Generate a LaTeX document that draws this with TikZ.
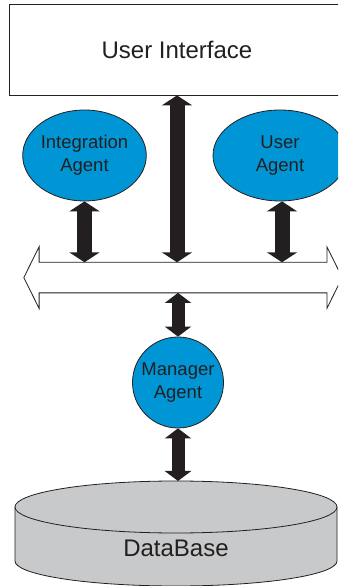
\documentclass[tikz,border=0pt]{standalone}
\usepackage{fontspec}
\setmainfont{Liberation Sans}
\usetikzlibrary{arrows.meta,shapes.geometric}
\definecolor{agentblue}{RGB}{0,150,214}
\definecolor{ink}{RGB}{35,31,32}
\definecolor{dbgray}{RGB}{200,201,202}
\tikzset{
  outline/.style={draw=ink, line width=0.8pt},
  agent/.style={outline, fill=agentblue, ellipse, inner sep=0pt, align=center,
    text=ink, font=\fontsize{18.5}{23}\selectfont},
  fatarrow/.style={draw=ink, line width=15pt,
    {Triangle[width=30pt,length=10pt]}-{Triangle[width=30pt,length=10pt]}},
  slimarrow/.style={draw=ink, line width=13pt,
    {Triangle[width=26pt,length=10pt]}-{Triangle[width=26pt,length=10pt]}},
}
\begin{document}
\begin{tikzpicture}[x=1pt,y=1pt]
\useasboundingbox (0,0) rectangle (338,586);
\clip (0,0) rectangle (338,586);

% user interface panel
\node[outline, fill=white, rectangle, minimum width=336pt, minimum height=91pt,
  inner sep=0pt, text=ink, font=\fontsize{24}{28}\selectfont] (ui) at (177,536.5) {User Interface};

% agents
\node[agent, minimum width=123pt, minimum height=91pt] (ia) at (84.5,430.5) {Integration\\Agent};
\node[agent, minimum width=134pt, minimum height=91pt] (ua) at (280,430.5) {User\\Agent};

% communication bus (hollow double arrow)
\node[inner sep=0pt, minimum width=287.4pt, minimum height=30.2pt] (bus) at (183,308.4) {};
\draw[outline, fill=white]
  (bus.north west) -- (bus.north east) -- ([yshift=15.5pt]bus.north east)
  -- ([xshift=15.3pt]bus.east) -- ([yshift=-15.5pt]bus.south east)
  -- (bus.south east) -- (bus.south west) -- ([yshift=-15.5pt]bus.south west)
  -- ([xshift=-15.3pt]bus.west) -- ([yshift=15.5pt]bus.north west) -- cycle;

% manager agent
\node[agent, circle, minimum size=91pt] (mgr) at (178,203.5) {Manager\\Agent};

% database cylinder
\coordinate (dbtop) at (176,105);
\fill[dbgray] (15,79) -- (15,25) arc[start angle=180, end angle=360, x radius=161pt, y radius=25pt]
  -- (337,79) arc[start angle=0, end angle=180, x radius=161pt, y radius=26pt] -- cycle;
\draw[outline] (15,79) -- (15,25) arc[start angle=180, end angle=360, x radius=161pt, y radius=25pt] -- (337,79);
\draw[outline] (176,79) ellipse[x radius=161pt, y radius=26pt];
\node[text=ink, font=\fontsize{24}{28}\selectfont] (db) at (176,38) {DataBase};

% connectors
\draw[fatarrow] (ui.south) -- (ui.south |- bus.north);
\draw[fatarrow] (ia.south) -- (ia.south |- bus.north);
\draw[fatarrow] ([xshift=2pt]ua.south) -- ([xshift=2pt]ua.south |- bus.north);
\draw[slimarrow] (bus.south -| mgr.north) -- (mgr.north);
\draw[slimarrow] (mgr.south) -- (mgr.south |- dbtop);
\end{tikzpicture}
\end{document}
